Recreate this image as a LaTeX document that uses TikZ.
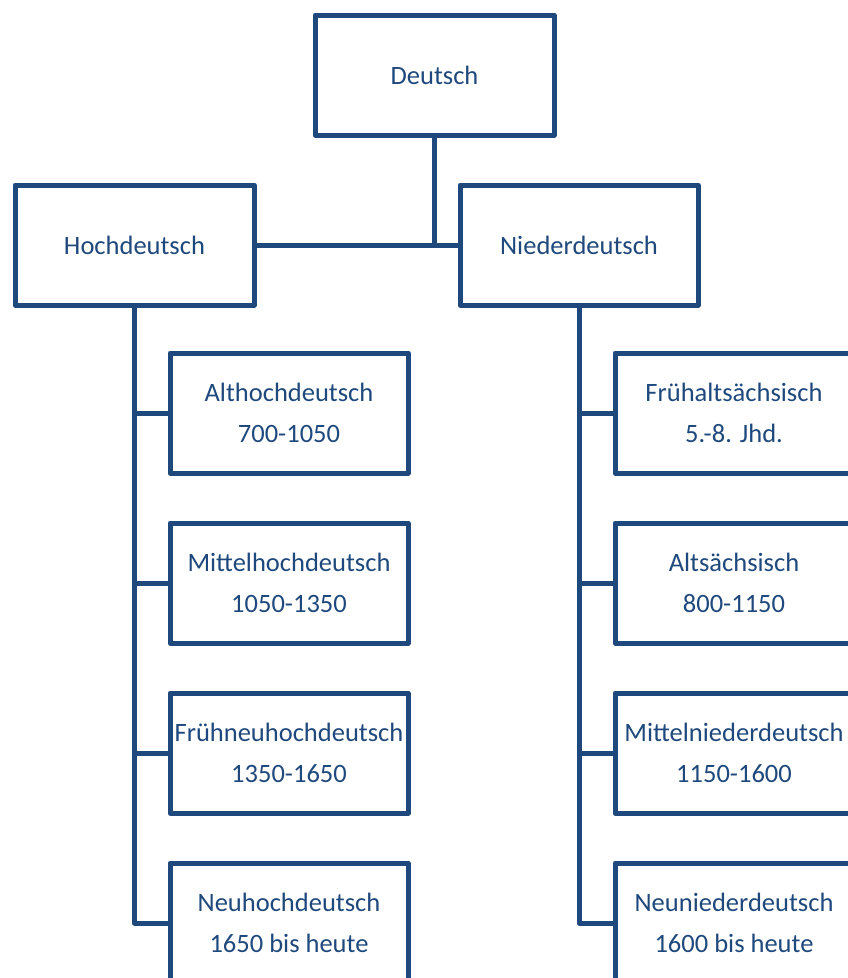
\documentclass[tikz,border=0pt]{standalone}
\usepackage{fontspec}
\setmainfont{Carlito}
\definecolor{dblue}{HTML}{1F497D}
\begin{document}
\begin{tikzpicture}[x=1pt,y=-1pt,
  box/.style={draw=dblue, line width=5pt, line join=round, fill=white, text=dblue,
    minimum width=238pt, minimum height=120pt, inner sep=0pt, align=center,
    font=\fontsize{26.5}{41}\selectfont},
  conn/.style={draw=dblue, line width=5pt, line join=round}]
\useasboundingbox (0,0) rectangle (848,978);
\node[box, minimum width=239pt] (D) at (434.5,75) {Deutsch};
\node[box, minimum width=239pt] (H) at (134.5,245) {Hochdeutsch};
\node[box] (N) at (579,245) {Niederdeutsch};
\node[box] (L1) at (289,413) {Althochdeutsch\\700-1050};
\node[box] (L2) at (289,583) {Mittelhochdeutsch\\1050-1350};
\node[box] (L3) at (289,753) {Frühneuhochdeutsch\\1350-1650};
\node[box] (L4) at (289,923) {Neuhochdeutsch\\1650 bis heute};
\node[box] (R1) at (734,413) {Frühaltsächsisch\\5.-8. Jhd.};
\node[box] (R2) at (734,583) {Altsächsisch\\800-1150};
\node[box] (R3) at (734,753) {Mittelniederdeutsch\\1150-1600};
\node[box] (R4) at (734,923) {Neuniederdeutsch\\1600 bis heute};
\draw[conn] (H.east) -- (N.west);
\draw[conn] (D.south) -- (D.south |- H.east);
\draw[conn] (H.south) |- (L4.west);
\draw[conn] (H.south |- L1.west) -- (L1.west);
\draw[conn] (H.south |- L2.west) -- (L2.west);
\draw[conn] (H.south |- L3.west) -- (L3.west);
\draw[conn] (N.south) |- (R4.west);
\draw[conn] (N.south |- R1.west) -- (R1.west);
\draw[conn] (N.south |- R2.west) -- (R2.west);
\draw[conn] (N.south |- R3.west) -- (R3.west);
\end{tikzpicture}
\end{document}
